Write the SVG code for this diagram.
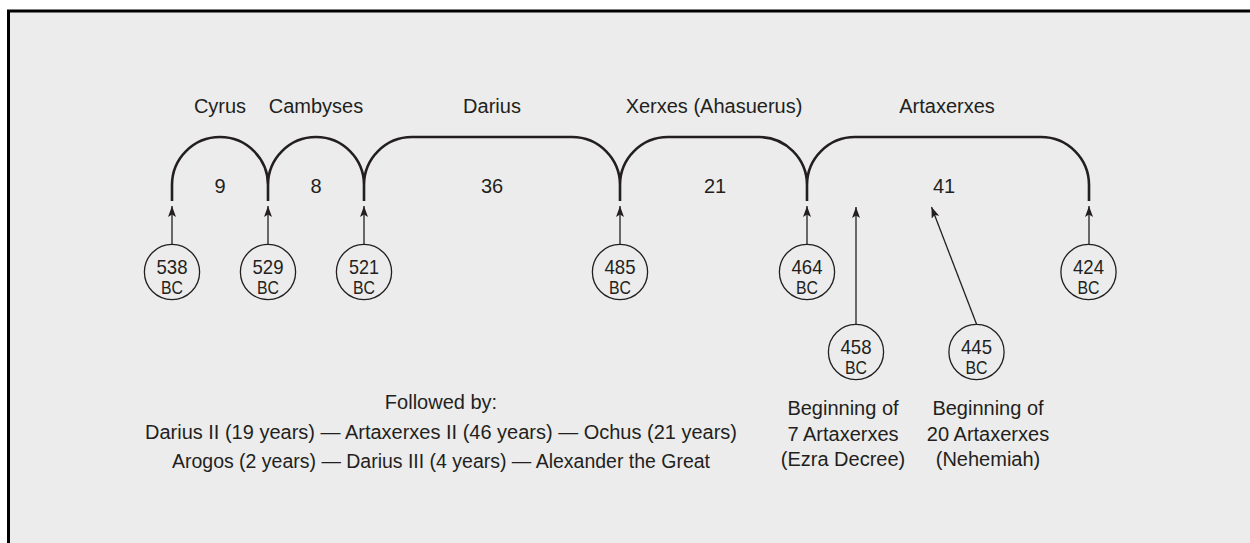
<svg xmlns="http://www.w3.org/2000/svg" width="1250" height="543" viewBox="0 0 1250 543">
<defs>
<marker id="ah" viewBox="0 0 11 8" refX="11" refY="4" markerWidth="11" markerHeight="8" markerUnits="userSpaceOnUse" orient="auto">
<path d="M0,0 L11,4 L0,8 L2.5,4 Z" fill="#231f20"/>
</marker>
<style>
text{font-family:"Liberation Sans",Arial,sans-serif;fill:#231f20;text-anchor:middle}
.lbl{font-size:20px}
.num{font-size:20px}
.yr{font-size:21px}
.bc{font-size:18px}
.ring{fill:none;stroke:#231f20;stroke-width:1.3}
.reign{fill:none;stroke:#231f20;stroke-width:2.6}
.arr{fill:none;stroke:#231f20;stroke-width:1.3;marker-end:url(#ah)}
</style>
</defs>
<rect x="0" y="0" width="1250" height="543" fill="#ffffff"/>
<rect x="8.5" y="11" width="1260" height="560" fill="#ececec" stroke="#000000" stroke-width="3"/>

<g id="reigns">
<path class="reign" d="M172,201 V185 A48,48 0 0 1 268,185 A48,48 0 0 1 364,185 A48,48 0 0 1 412,137 H572 A48,48 0 0 1 620,185 A48,48 0 0 1 668,137 H759 A48,48 0 0 1 807,185 A48,48 0 0 1 855,137 H1041 A48,48 0 0 1 1089,185 V201"/>
<path class="reign" d="M268,185 V201 M364,185 V201 M620,185 V201 M807,185 V201"/>
</g>

<g id="king-labels">
<g id="cyrus"><text class="lbl" x="220" y="113">Cyrus</text><text class="num" x="220" y="193">9</text></g>
<g id="cambyses"><text class="lbl" x="316" y="113">Cambyses</text><text class="num" x="316" y="193">8</text></g>
<g id="darius"><text class="lbl" x="492" y="113">Darius</text><text class="num" x="492" y="193">36</text></g>
<g id="xerxes"><text class="lbl" x="714" y="113">Xerxes (Ahasuerus)</text><text class="num" x="715" y="193">21</text></g>
<g id="artaxerxes"><text class="lbl" x="947" y="113">Artaxerxes</text><text class="num" x="944" y="193">41</text></g>
</g>

<g id="connectors">
<line class="arr" x1="172" y1="244" x2="172" y2="206"/>
<line class="arr" x1="268" y1="244" x2="268" y2="206"/>
<line class="arr" x1="364" y1="244" x2="364" y2="206"/>
<line class="arr" x1="620" y1="244" x2="620" y2="206"/>
<line class="arr" x1="807" y1="244" x2="807" y2="206"/>
<line class="arr" x1="1089" y1="244" x2="1089" y2="206"/>
<line class="arr" x1="856" y1="324" x2="856" y2="207"/>
<line class="arr" x1="976.5" y1="324" x2="931.5" y2="207"/>
</g>

<g id="d538"><circle class="ring" cx="172" cy="272" r="27.6"/><text class="yr" x="172" y="274" textLength="31" lengthAdjust="spacingAndGlyphs">538</text><text class="bc" x="172" y="293.5" textLength="22" lengthAdjust="spacingAndGlyphs">BC</text></g>
<g id="d529"><circle class="ring" cx="268" cy="272" r="27.6"/><text class="yr" x="268" y="274" textLength="31" lengthAdjust="spacingAndGlyphs">529</text><text class="bc" x="268" y="293.5" textLength="22" lengthAdjust="spacingAndGlyphs">BC</text></g>
<g id="d521"><circle class="ring" cx="364" cy="272" r="27.6"/><text class="yr" x="364" y="274" textLength="30" lengthAdjust="spacingAndGlyphs">521</text><text class="bc" x="364" y="293.5" textLength="22" lengthAdjust="spacingAndGlyphs">BC</text></g>
<g id="d485"><circle class="ring" cx="620" cy="272" r="27.6"/><text class="yr" x="620" y="274" textLength="31" lengthAdjust="spacingAndGlyphs">485</text><text class="bc" x="620" y="293.5" textLength="22" lengthAdjust="spacingAndGlyphs">BC</text></g>
<g id="d464"><circle class="ring" cx="807" cy="272" r="27.6"/><text class="yr" x="807" y="274" textLength="31" lengthAdjust="spacingAndGlyphs">464</text><text class="bc" x="807" y="293.5" textLength="22" lengthAdjust="spacingAndGlyphs">BC</text></g>
<g id="d424"><circle class="ring" cx="1088.5" cy="272" r="27.6"/><text class="yr" x="1088.5" y="274" textLength="31" lengthAdjust="spacingAndGlyphs">424</text><text class="bc" x="1088.5" y="293.5" textLength="22" lengthAdjust="spacingAndGlyphs">BC</text></g>
<g id="d458"><circle class="ring" cx="856" cy="352" r="27.6"/><text class="yr" x="856" y="354" textLength="31" lengthAdjust="spacingAndGlyphs">458</text><text class="bc" x="856" y="373.5" textLength="22" lengthAdjust="spacingAndGlyphs">BC</text></g>
<g id="d445"><circle class="ring" cx="976.5" cy="352" r="27.6"/><text class="yr" x="976.5" y="354" textLength="31" lengthAdjust="spacingAndGlyphs">445</text><text class="bc" x="976.5" y="373.5" textLength="22" lengthAdjust="spacingAndGlyphs">BC</text></g>

<g id="ezra-note">
<text class="lbl" x="843" y="415">Beginning of</text>
<text class="lbl" x="843" y="441">7 Artaxerxes</text>
<text class="lbl" x="843" y="466">(Ezra Decree)</text>
</g>
<g id="nehemiah-note">
<text class="lbl" x="988" y="415">Beginning of</text>
<text class="lbl" x="988" y="441">20 Artaxerxes</text>
<text class="lbl" x="988" y="466">(Nehemiah)</text>
</g>

<g id="successors">
<text class="lbl" x="441" y="409">Followed by:</text>
<text class="lbl" x="441" y="439" textLength="592" lengthAdjust="spacingAndGlyphs">Darius II (19 years) — Artaxerxes II (46 years) — Ochus (21 years)</text>
<text class="lbl" x="441" y="468" textLength="538" lengthAdjust="spacingAndGlyphs">Arogos (2 years) — Darius III (4 years) — Alexander the Great</text>
</g>
</svg>
